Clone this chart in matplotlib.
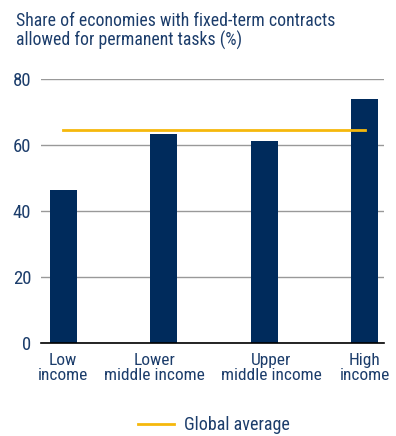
import matplotlib.pyplot as plt
import matplotlib.transforms as mtransforms
from matplotlib.lines import Line2D

categories = ["Low\nincome", "Lower\nmiddle income", "Upper\nmiddle income", "High\nincome"]
shares = [46.4, 63.2, 61.1, 73.9]
global_average = 64.4
yticks = [0, 20, 40, 60, 80]

navy = "#002b5c"
gold = "#f5b80c"
text_col = "#1c3d6b"

plt.rcParams['font.family'] = ['Roboto Condensed', 'Roboto', 'DejaVu Sans']

fig = plt.figure(figsize=(3.96, 4.36), dpi=100)
ax = fig.add_axes([41 / 396, 1 - 343 / 436, 343 / 396, 264 / 436])

x = list(range(len(categories)))
ax.bar(x, shares, width=0.27, color=navy, zorder=3)
ax.plot([0, len(categories) - 1], [global_average, global_average], color=gold, lw=2, zorder=4)

ax.set_xlim(-0.22, 3.19)
ax.set_ylim(0, 80)
ax.set_yticks(yticks)
ax.grid(axis='y', color="#999999", lw=1, zorder=0)
for s in ["top", "right", "left"]:
    ax.spines[s].set_visible(False)
ax.spines["bottom"].set_color("black")
ax.spines["bottom"].set_linewidth(1.2)
ax.spines["bottom"].set_zorder(5)
ax.tick_params(axis='y', length=0, labelsize=13.5, colors=text_col, pad=7)
ax.tick_params(axis='x', length=0, labelsize=12.5, colors=text_col, pad=7)
ax.set_xticks(x)
ax.set_xticklabels(categories, linespacing=1.0)

# nudge the two middle labels apart, as in the original
shifts = [0, -9, 7, 0]
for lab, dx in zip(ax.get_xticklabels(), shifts):
    lab.set_transform(lab.get_transform() + mtransforms.ScaledTranslation(dx / 100, 0, fig.dpi_scale_trans))

fig.text(16 / 396, 1 - 12 / 436, "Share of economies with fixed-term contracts\nallowed for permanent tasks (%)",
         ha='left', va='top', fontsize=12.8, color=text_col, linespacing=1.05)

handle = Line2D([], [], color=gold, lw=2)
fig.legend([handle], ["Global average"], loc='center', bbox_to_anchor=(214 / 396, 1 - 425 / 436),
           frameon=False, fontsize=13, labelcolor=text_col, handlelength=2.0, handletextpad=0.55)

fig.savefig("out.png", dpi=100)
